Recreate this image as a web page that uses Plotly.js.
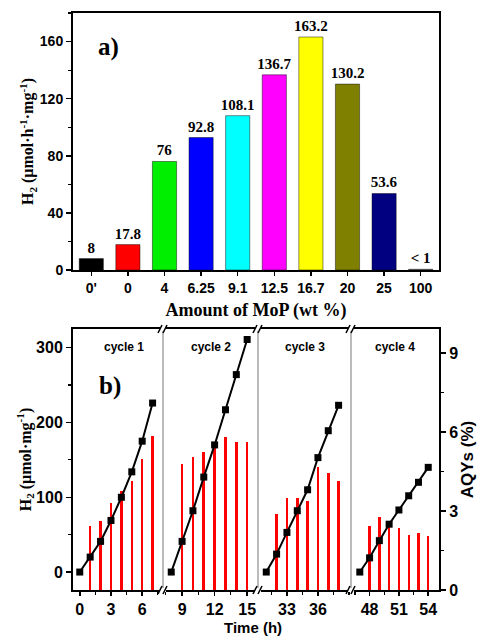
<!DOCTYPE html>
<html>
<head>
<meta charset="utf-8">
<script src="https://cdn.plot.ly/plotly-3.0.1.min.js"></script>
<style>html,body{margin:0;padding:0;background:#fff;}#chart{width:483px;height:636px;}</style>
</head>
<body>
<div id="chart"></div>
<script>
// ---- Panel a) data ----
const mopAmounts = ["0'", "0", "4", "6.25", "9.1", "12.5", "16.7", "20", "25", "100"];
const h2Rates = [8, 17.8, 76, 92.8, 108.1, 136.7, 163.2, 130.2, 53.6, 0.5];
const rateLabels = ["8", "17.8", "76", "92.8", "108.1", "136.7", "163.2", "130.2", "53.6", "< 1"];
const barColors = ["#000000", "#ff0000", "#00ee00", "#0000ff", "#00ffff", "#ff00ff", "#ffff00", "#808000", "#000080", "#777777"];

// ---- Panel b) data ----
const cycleNames = ["cycle 1", "cycle 2", "cycle 3", "cycle 4"];
const timeH2 = [
  [0, 1, 2, 3, 4, 5, 6, 7],
  [8, 9, 10, 11, 12, 13, 14, 15],
  [31, 32, 33, 34, 35, 36, 37, 38],
  [47, 48, 49, 50, 51, 52, 53, 54]
];
const h2Amount = [
  [0, 20, 41, 69, 100, 134, 175, 226],
  [0, 41, 82, 127, 170, 217, 264, 311],
  [0, 24, 53, 82, 110, 153, 189, 223],
  [0, 19, 42, 64, 83, 102, 120, 140]
];
const timeAQY = [
  [1, 2, 3, 4, 5, 6, 7],
  [9, 10, 11, 12, 13, 14, 15],
  [32, 33, 34, 35, 36, 37, 38],
  [48, 49, 50, 51, 52, 53, 54]
];
const aqyValues = [
  [2.43, 2.64, 3.30, 3.76, 4.14, 4.98, 5.87],
  [4.79, 5.06, 5.24, 5.40, 5.83, 5.64, 5.64],
  [2.89, 3.51, 3.49, 3.40, 4.69, 4.44, 4.14],
  [2.43, 2.76, 2.60, 2.35, 2.08, 2.17, 2.06]
];
const timeTicks = [[0, 3, 6], [9, 12, 15], [33, 36], [48, 51, 54]];

// ---- layout geometry (pixels) ----
const W = 483, H = 636;
const px = v => v / W, py = v => 1 - v / H;
const panelEdges = [73, 163, 258, 351, 439];
const xRanges = [[-0.65, 8.0], [7.24, 16.0], [30.2, 39.2], [46.1, 55.1]];
const bTop = 329, bBot = 590;

const serifB = {family: "Liberation Serif, Times New Roman, serif", color: "#000", weight: "bold"};
const sansB = {family: "Liberation Sans, Arial, sans-serif", color: "#000", weight: "bold"};

const labelFont = Object.assign({size: 15}, serifB);
const traces = [];
traces.push({
  type: "bar", x: mopAmounts, y: h2Rates, xaxis: "x", yaxis: "y",
  marker: {color: barColors, line: {color: "rgba(0,0,0,0.45)", width: 1}},
  width: 0.66,
  text: rateLabels, textposition: "outside", cliponaxis: false, constraintext: "none",
  textfont: labelFont, outsidetextfont: labelFont,
  hoverinfo: "x+y", showlegend: false
});

for (let i = 0; i < 4; i++) {
  const xa = "x" + (i + 2);
  traces.push({
    type: "bar", x: timeAQY[i], y: aqyValues[i], xaxis: xa, yaxis: "y2",
    marker: {color: "#ff0000", line: {width: 0}}, width: 0.24, showlegend: false
  });
}
for (let i = 0; i < 4; i++) {
  const xa = "x" + (i + 2);
  traces.push({
    type: "scatter", mode: "lines+markers", x: timeH2[i], y: h2Amount[i], xaxis: xa, yaxis: "y3",
    line: {color: "#000", width: 2},
    marker: {symbol: "square", size: 7, color: "#000"}, showlegend: false, cliponaxis: false
  });
}

const layout = {
  width: W, height: H,
  margin: {l: 0, r: 0, t: 0, b: 0},
  paper_bgcolor: "#fff", plot_bgcolor: "rgba(0,0,0,0)",
  showlegend: false, bargap: 0,
  xaxis: {
    domain: [px(73), px(439)], anchor: "y", type: "category", range: [-0.5, 9.5],
    showline: true, linewidth: 2, linecolor: "#000", mirror: true,
    ticks: "outside", ticklen: 4, tickwidth: 1.5, tickcolor: "#000",
    tickfont: Object.assign({size: 14}, sansB),
    showgrid: false, zeroline: false,
    title: {text: "Amount of MoP (wt %)", font: Object.assign({size: 18}, serifB), standoff: 9}
  },
  yaxis: {
    domain: [py(270), py(13)], anchor: "x", range: [0, 180],
    tickvals: [0, 40, 80, 120, 160],
    showline: true, linewidth: 2, linecolor: "#000", mirror: true,
    ticks: "outside", ticklen: 5, tickwidth: 1.5, tickcolor: "#000",
    minor: {dtick: 20, ticks: "outside", ticklen: 3, tickwidth: 1.2, tickcolor: "#000"},
    tickfont: Object.assign({size: 14}, sansB),
    showgrid: false, zeroline: false,
    title: {text: "H<sub>2</sub> (μmol·h<sup>-1</sup>·mg<sup>-1</sup>)", font: Object.assign({size: 16}, serifB), standoff: 2}
  },
  yaxis2: {
    domain: [py(bBot), py(bTop)], anchor: "x5", side: "right", range: [0, 9.92],
    tickvals: [0, 3, 6, 9],
    showline: true, linewidth: 2, linecolor: "#000",
    ticks: "outside", ticklen: 5, tickwidth: 1.5, tickcolor: "#000",
    minor: {dtick: 1.5, ticks: "outside", ticklen: 3, tickwidth: 1.2, tickcolor: "#000"},
    tickfont: Object.assign({size: 16}, sansB),
    showgrid: false, zeroline: false,
    title: {text: "AQYs (%)", font: Object.assign({size: 17}, sansB), standoff: 4}
  },
  yaxis3: {
    overlaying: "y2", anchor: "x2", side: "left", range: [-24, 325],
    tickvals: [0, 100, 200, 300],
    showline: true, linewidth: 2, linecolor: "#000",
    ticks: "outside", ticklen: 5, tickwidth: 1.5, tickcolor: "#000",
    minor: {dtick: 50, ticks: "outside", ticklen: 3, tickwidth: 1.2, tickcolor: "#000"},
    tickfont: Object.assign({size: 16}, sansB),
    showgrid: false, zeroline: false,
    title: {text: "H<sub>2</sub> (μmol·mg<sup>-1</sup>)", font: Object.assign({size: 16}, serifB), standoff: 0}
  },
  shapes: [],
  annotations: [
    {text: "a)", xref: "paper", yref: "paper", x: px(108), y: py(47), showarrow: false,
     font: Object.assign({size: 25}, serifB), xanchor: "center", yanchor: "middle"},
    {text: "b)", xref: "paper", yref: "paper", x: px(110), y: py(386), showarrow: false,
     font: Object.assign({size: 25}, serifB), xanchor: "center", yanchor: "middle"},
    {text: "Time (h)", xref: "paper", yref: "paper", x: px(253), y: py(627), showarrow: false,
     font: Object.assign({size: 15}, sansB), xanchor: "center", yanchor: "middle"}
  ]
};

for (let i = 0; i < 4; i++) {
  const ax = {
    domain: [px(panelEdges[i]), px(panelEdges[i + 1])], anchor: "y2", range: xRanges[i],
    tickvals: timeTicks[i],
    showline: true, linewidth: 2, linecolor: "#000", mirror: true,
    ticks: "outside", ticklen: 4, tickwidth: 1.5, tickcolor: "#000",
    minor: {dtick: 1.5, tick0: 0, ticks: "outside", ticklen: 3, tickwidth: 1.2, tickcolor: "#000"},
    tickfont: Object.assign({size: 16}, sansB),
    showgrid: false, zeroline: false
  };
  layout["xaxis" + (i + 2)] = ax;
  const cx = (panelEdges[i] + panelEdges[i + 1]) / 2 + (i === 0 ? 6 : 0);
  layout.annotations.push({
    text: cycleNames[i], xref: "paper", yref: "paper", x: px(cx), y: py(347), showarrow: false,
    font: Object.assign({size: 12}, sansB), xanchor: "center", yanchor: "middle"
  });
}

// panel dividers and axis break marks
for (let k = 1; k < 4; k++) {
  const xb = panelEdges[k];
  layout.shapes.push({type: "line", xref: "paper", yref: "paper", x0: px(xb), x1: px(xb), y0: py(bBot), y1: py(bTop),
    line: {color: "#777", width: 1}});
  [bTop, bBot].forEach(yb => {
    layout.shapes.push({type: "rect", xref: "paper", yref: "paper", x0: px(xb - 3), x1: px(xb + 3), y0: py(yb + 2), y1: py(yb - 2),
      fillcolor: "#fff", line: {width: 0}});
    [-3, 2].forEach(d => {
      layout.shapes.push({type: "line", xref: "paper", yref: "paper",
        x0: px(xb + d - 2), y0: py(yb + 4), x1: px(xb + d + 2), y1: py(yb - 4),
        line: {color: "#000", width: 1.5}});
    });
  });
}

Plotly.newPlot("chart", traces, layout, {displayModeBar: false, staticPlot: true});
</script>
</body>
</html>
